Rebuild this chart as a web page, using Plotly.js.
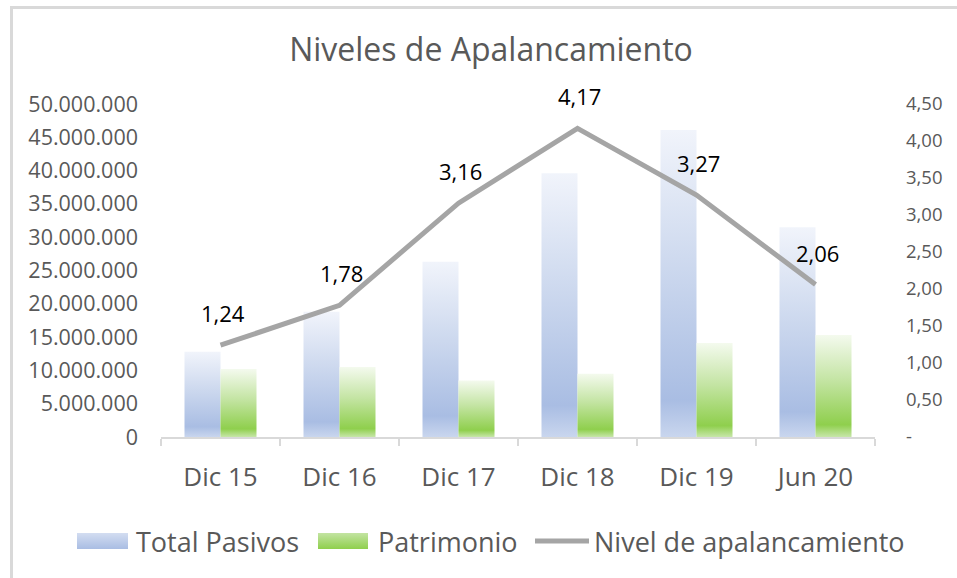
<!DOCTYPE html>
<html>
<head>
<meta charset="utf-8">
<script src="https://cdn.plot.ly/plotly-3.0.1.min.js"></script>
<style>
  html, body { margin:0; padding:0; background:#fff; }
  #wrap { position:relative; width:957px; height:578px; overflow:hidden; }
  #chart { position:absolute; left:0; top:0; width:957px; height:578px; }
  #frame { position:absolute; left:10px; top:6px; width:1200px; height:1200px;
           border-left:3px solid #d9d9d9; border-top:3px solid #d9d9d9; pointer-events:none; }
</style>
</head>
<body>
<div id="wrap"><div id="chart"></div><div id="frame"></div></div>
<script>
// ---- data ----
var categories   = ['Dic 15', 'Dic 16', 'Dic 17', 'Dic 18', 'Dic 19', 'Jun 20'];
var totalPasivos = [12800000, 18800000, 26300000, 39600000, 46100000, 31500000];
var patrimonio   = [10200000, 10500000, 8500000, 9500000, 14100000, 15300000];
var apalancamiento = [1.24, 1.78, 3.16, 4.17, 3.27, 2.06];
var seriesNames  = ['Total Pasivos', 'Patrimonio', 'Nivel de apalancamiento'];
var leftTickVals  = [0, 5000000, 10000000, 15000000, 20000000, 25000000, 30000000, 35000000, 40000000, 45000000, 50000000];
var leftTickText  = ['0', '5.000.000', '10.000.000', '15.000.000', '20.000.000', '25.000.000', '30.000.000', '35.000.000', '40.000.000', '45.000.000', '50.000.000'];
var rightTickVals = [0, 0.5, 1, 1.5, 2, 2.5, 3, 3.5, 4, 4.5];
var rightTickText = ['-', '0,50', '1,00', '1,50', '2,00', '2,50', '3,00', '3,50', '4,00', '4,50'];

var FONT = 'Open Sans, Noto Sans, sans-serif';
var GREY = '#595959';
var M = { l:161, r:82, t:104, b:141 };
var W = 957, H = 578;
var PW = W - M.l - M.r, PH = H - M.t - M.b;
function px2x(px){ return (px - M.l) / PW; }
function py2y(py){ return (H - M.b - py) / PH; }

var data = [
  { type:'bar', name:seriesNames[0], x:categories, y:totalPasivos,
    marker:{ color:'#b4c7e7', line:{width:0} }, hoverinfo:'skip' },
  { type:'bar', name:seriesNames[1], x:categories, y:patrimonio,
    marker:{ color:'#92d050', line:{width:0} }, hoverinfo:'skip' },
  { type:'scatter', mode:'lines', name:seriesNames[2], x:categories, y:apalancamiento,
    yaxis:'y2', line:{ color:'#a5a5a5', width:5 }, hoverinfo:'skip' }
];

var annotations = apalancamiento.map(function(v, i){
  return { x:categories[i], y:v, xref:'x', yref:'y2', text:v.toFixed(2).replace('.', ','),
           showarrow:false, yshift:32, xshift:2, font:{ family:FONT, size:22, color:'#000' } };
});

// custom legend (swatches + labels) below the plot
var legendY = 541;
var legendTextX = [134, 376, 592];
seriesNames.forEach(function(n, i){
  annotations.push({ xref:'paper', yref:'paper', x:px2x(legendTextX[i]), y:py2y(legendY),
    xanchor:'left', yanchor:'middle', text:n, showarrow:false,
    font:{ family:FONT, size:27, color:GREY } });
});
var shapes = [
  { type:'rect', xref:'paper', yref:'paper', x0:px2x(77), x1:px2x(128), y0:py2y(549), y1:py2y(533),
    fillcolor:'#b4c7e7', line:{width:0} },
  { type:'rect', xref:'paper', yref:'paper', x0:px2x(318), x1:px2x(368), y0:py2y(549), y1:py2y(533),
    fillcolor:'#92d050', line:{width:0} },
  { type:'line', xref:'paper', yref:'paper', x0:px2x(535), x1:px2x(589), y0:py2y(legendY), y1:py2y(legendY),
    line:{ color:'#a5a5a5', width:5 } }
];

var layout = {
  width:W, height:H,
  margin:M,
  paper_bgcolor:'rgba(0,0,0,0)', plot_bgcolor:'rgba(0,0,0,0)',
  font:{ family:FONT, color:GREY },
  title:{ text:'Niveles de Apalancamiento', font:{ family:FONT, size:32, color:GREY },
          xref:'container', yref:'container', x:491/957, y:1-50/578, xanchor:'center', yanchor:'middle' },
  barmode:'group', bargap:0.395, bargroupgap:0,
  showlegend:false,
  xaxis:{ type:'category', showline:true, linecolor:'#d9d9d9', linewidth:2,
          ticks:'outside', tickson:'boundaries', ticklen:7, tickcolor:'#d9d9d9', tickwidth:2,
          tickfont:{ family:FONT, size:26, color:GREY }, showgrid:false, zeroline:false,
          ticklabelstandoff:16, fixedrange:true },
  yaxis:{ range:[0, 50000000], tickvals:leftTickVals, ticktext:leftTickText,
          showgrid:false, zeroline:false, showline:false, ticks:'',
          tickfont:{ family:FONT, size:21.5, color:GREY }, ticklabelstandoff:22 },
  yaxis2:{ range:[0, 4.5], overlaying:'y', side:'right', tickvals:rightTickVals, ticktext:rightTickText,
           showgrid:false, zeroline:false, showline:false, ticks:'',
           tickfont:{ family:FONT, size:18.5, color:GREY }, ticklabelstandoff:30 },
  annotations:annotations,
  shapes:shapes
};

function addGradient(defs, id, stops){
  var ns = 'http://www.w3.org/2000/svg';
  var g = document.createElementNS(ns, 'linearGradient');
  g.setAttribute('id', id);
  g.setAttribute('x1', '0'); g.setAttribute('y1', '0');
  g.setAttribute('x2', '0'); g.setAttribute('y2', '1');
  stops.forEach(function(s){
    var st = document.createElementNS(ns, 'stop');
    st.setAttribute('offset', s[0]);
    st.setAttribute('stop-color', s[1]);
    g.appendChild(st);
  });
  defs.appendChild(g);
}

var gd = document.getElementById('chart');
Plotly.newPlot(gd, data, layout, { staticPlot:true, displayModeBar:false }).then(function(){
  var svg = gd.querySelector('svg.main-svg');
  var defs = svg.querySelector('defs');
  if (!defs) { defs = document.createElementNS('http://www.w3.org/2000/svg', 'defs'); svg.insertBefore(defs, svg.firstChild); }
  addGradient(defs, 'gradBlue',  [['0', '#f1f4fb'], ['0.45', '#ccd8ee'], ['0.88', '#a9bde3'], ['1', '#c9d6ee']]);
  addGradient(defs, 'gradGreen', [['0', '#f4faee'], ['0.45', '#c3e4a2'], ['0.88', '#8fcf4d'], ['1', '#c7e6a9']]);
  addGradient(defs, 'legBlue',  [['0', '#d3ddf1'], ['1', '#a9bde3']]);
  addGradient(defs, 'legGreen', [['0', '#c3e4a2'], ['1', '#8fcf4d']]);
  var ids = ['gradBlue', 'gradGreen'];
  gd.querySelectorAll('.barlayer .trace').forEach(function(t, i){
    t.querySelectorAll('path').forEach(function(p){ p.style.fill = 'url(#' + ids[i] + ')'; });
  });
  var legIds = ['legBlue', 'legGreen'];
  gd.querySelectorAll('.shapelayer path[data-index]').forEach(function(p){
    var k = +p.getAttribute('data-index');
    if (k < 2) p.style.fill = 'url(#' + legIds[k] + ')';
  });
});
</script>
</body>
</html>
